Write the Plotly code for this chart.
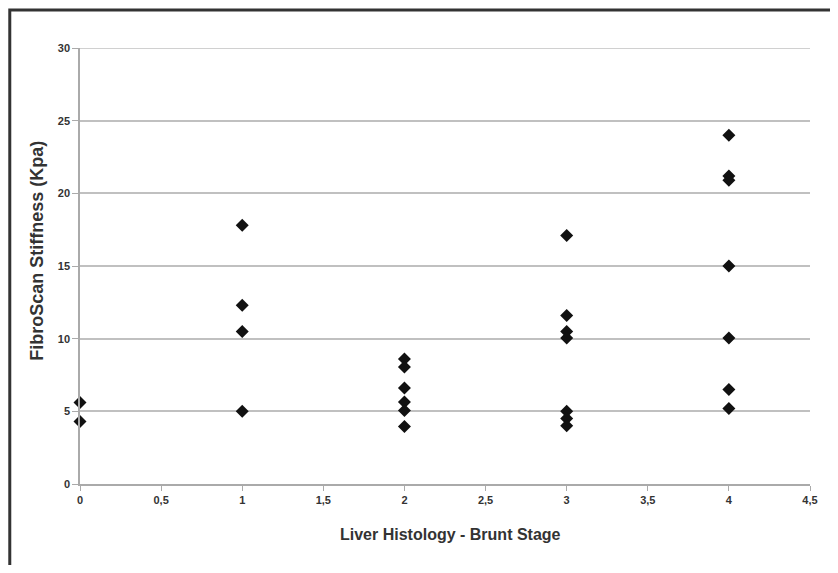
import plotly.graph_objects as go

stage_0 = [5.6, 4.3]
stage_1 = [17.8, 12.3, 10.5, 5.0]
stage_2 = [8.6, 8.05, 6.6, 5.65, 5.05, 3.95]
stage_3 = [17.1, 11.6, 10.5, 10.05, 5.0, 4.5, 4.0]
stage_4 = [24.0, 21.2, 20.9, 15.0, 10.05, 6.5, 5.2]

stages = [0, 1, 2, 3, 4]
values = [stage_0, stage_1, stage_2, stage_3, stage_4]

xs, ys = [], []
for s, vals in zip(stages, values):
    xs += [s] * len(vals)
    ys += vals

x_ticks = [0, 0.5, 1, 1.5, 2, 2.5, 3, 3.5, 4, 4.5]
x_labels = ["0", "0,5", "1", "1,5", "2", "2,5", "3", "3,5", "4", "4,5"]
y_ticks = [0, 5, 10, 15, 20, 25, 30]
x_title = "Liver Histology - Brunt Stage"
y_title = "FibroScan Stiffness (Kpa)"

fam = "Liberation Sans, Arial, sans-serif"
grid_c = "#c0c0c0"

fig = go.Figure()
fig.add_trace(go.Scatter(
    x=xs, y=ys, mode="markers",
    marker=dict(symbol="diamond", size=10, color="#111111", line=dict(width=0)),
    showlegend=False, cliponaxis=False,
))

fig.update_layout(
    width=822, height=557,
    margin=dict(l=72, r=12, t=40, b=81),
    paper_bgcolor="white", plot_bgcolor="white",
    font=dict(family=fam, color="#333333"),
    xaxis=dict(
        range=[0, 4.5], tickvals=x_ticks, ticktext=x_labels,
        showgrid=False, zeroline=False,
        showline=True, linecolor="#aaaaaa", linewidth=1.5,
        ticks="outside", ticklen=5, tickcolor="#aaaaaa", tickwidth=1.2,
        tickfont=dict(size=11, color="#333333", family=fam, weight="bold"),
    ),
    yaxis=dict(
        range=[0, 30], tickvals=y_ticks,
        showgrid=True, gridcolor=grid_c, gridwidth=1.5,
        zeroline=False,
        showline=True, linecolor="#aaaaaa", linewidth=1.5,
        ticks="outside", ticklen=6, tickcolor="#aaaaaa", tickwidth=1.2,
        tickfont=dict(size=11, color="#333333", family=fam, weight="bold"),
    ),
    annotations=[
        dict(text="<b>" + x_title + "</b>", xref="paper", yref="paper",
             x=0.508, y=-0.115, xanchor="center", yanchor="middle", showarrow=False,
             font=dict(size=16, color="#333333", family=fam)),
        dict(text="<b>" + y_title + "</b>", xref="paper", yref="paper",
             x=-0.058, y=0.534, xanchor="center", yanchor="middle", showarrow=False,
             textangle=-90, font=dict(size=18, color="#333333", family=fam)),
    ],
    shapes=[
        dict(type="line", xref="paper", yref="y", x0=0, x1=1, y0=30, y1=30,
             line=dict(color=grid_c, width=1.5), layer="below"),
        dict(type="rect", xref="paper", yref="paper",
             x0=-0.0962, x1=1.1, y0=-0.3, y1=1.0872,
             line=dict(color="#333333", width=3), fillcolor="rgba(0,0,0,0)", layer="above"),
    ],
)

fig.write_html("out.html")
